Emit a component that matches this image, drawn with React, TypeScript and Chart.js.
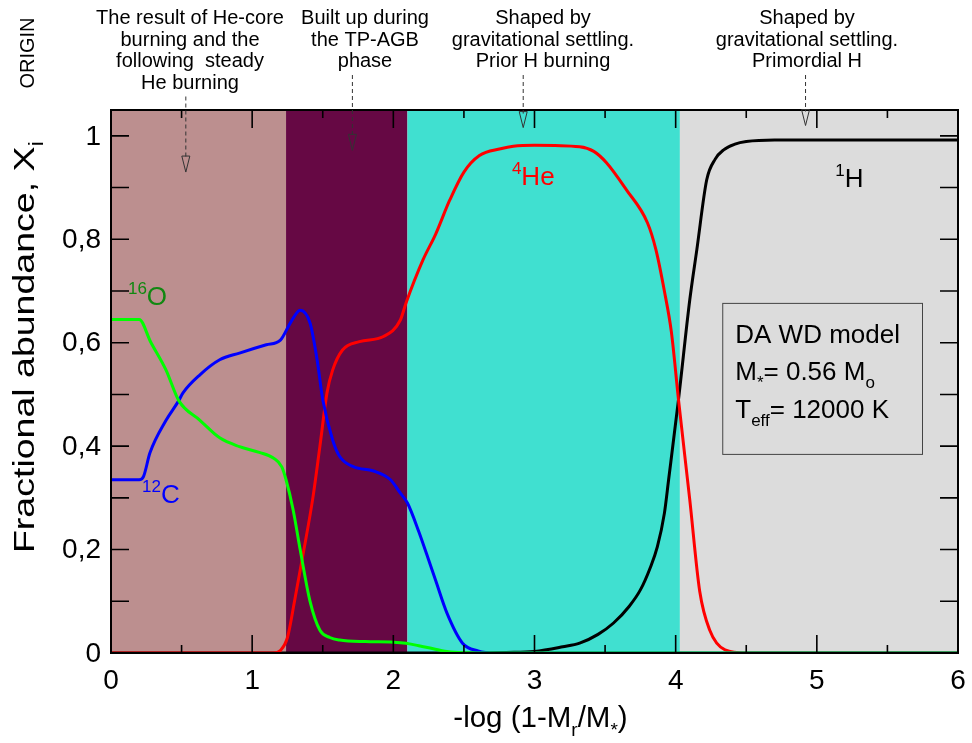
import React, { useEffect, useRef } from "react";
import { Chart, registerables } from "chart.js";

Chart.register(...registerables);

// Abundance profiles against -log(1 - Mr/M*)
const xO = [0, 0.2, 0.28, 0.39, 0.48, 0.63, 0.77, 0.91, 1.05, 1.15, 1.21, 1.24, 1.29, 1.34, 1.41, 1.48, 1.55, 1.62, 1.8, 2.0, 2.09, 2.18, 2.26, 2.38, 2.5, 2.65, 6];
const yO = [0.645, 0.645, 0.602, 0.547, 0.488, 0.45, 0.416, 0.399, 0.388, 0.377, 0.36, 0.335, 0.277, 0.2, 0.1, 0.044, 0.03, 0.025, 0.022, 0.021, 0.019, 0.014, 0.0095, 0.003, 0.0005, 0, 0];

const xC = [0, 0.2, 0.23, 0.276, 0.39, 0.48, 0.51, 0.63, 0.77, 0.91, 1.1, 1.2, 1.27, 1.34, 1.41, 1.46, 1.5, 1.57, 1.62, 1.72, 1.86, 1.98, 2.05, 2.1, 2.18, 2.26, 2.3, 2.38, 2.49, 2.6, 2.72, 6];
const yC = [0.335, 0.335, 0.341, 0.387, 0.45, 0.488, 0.503, 0.538, 0.567, 0.58, 0.596, 0.605, 0.638, 0.663, 0.638, 0.567, 0.49, 0.412, 0.38, 0.36, 0.352, 0.335, 0.309, 0.29, 0.235, 0.172, 0.14, 0.077, 0.019, 0.004, 0, 0];

const xHe = [0, 1.15, 1.2, 1.25, 1.3, 1.36, 1.43, 1.48, 1.53, 1.57, 1.64, 1.76, 1.93, 2.05, 2.09, 2.21, 2.3, 2.4, 2.5, 2.61, 2.76, 2.85, 3.0, 3.32, 3.42, 3.51, 3.65, 3.8, 3.86, 3.92, 3.97, 4.02, 4.1, 4.17, 4.24, 4.35, 4.5, 6];
const yHe = [0, 0, 0.005, 0.03, 0.1, 0.19, 0.3, 0.4, 0.503, 0.547, 0.586, 0.602, 0.612, 0.644, 0.677, 0.76, 0.81, 0.876, 0.93, 0.962, 0.975, 0.98, 0.982, 0.979, 0.97, 0.948, 0.896, 0.832, 0.78, 0.7, 0.62, 0.49, 0.296, 0.12, 0.045, 0.006, 0, 0];

const xH = [0, 2.6, 2.8, 3.0, 3.2, 3.32, 3.45, 3.56, 3.67, 3.75, 3.82, 3.87, 3.92, 3.95, 4.02, 4.1, 4.15, 4.22, 4.28, 4.34, 4.42, 4.5, 4.7, 6];
const yH = [0, 0, 0.001, 0.003, 0.012, 0.019, 0.036, 0.058, 0.09, 0.122, 0.165, 0.205, 0.27, 0.335, 0.49, 0.683, 0.78, 0.915, 0.955, 0.973, 0.984, 0.989, 0.992, 0.992];

// Shaded zones along the mass coordinate
const bandEdges = [0, 1.24, 2.1, 4.03, 6];
const bandColors = ["#BC8F8F", "#660844", "#40E0D0", "#DCDCDC"];

// Axis ticks
const xMajorTicks = [0, 1, 2, 3, 4, 5, 6];
const xMinorTicks = [0.5, 1.5, 2.5, 3.5, 4.5, 5.5];
const xTickLabels = ["0", "1", "2", "3", "4", "5", "6"];
const yTicks = [0, 0.1, 0.2, 0.3, 0.4, 0.5, 0.6, 0.7, 0.8, 0.9, 1.0];
const yLabelValues = [0, 0.2, 0.4, 0.6, 0.8, 1.0];
const yTickLabels = ["0", "0,2", "0,4", "0,6", "0,8", "1"];

// Notes above the frame, each pointing down at a zone
const noteX = [0.53, 1.71, 2.92, 4.92];
const noteTipY = [0.93, 0.972, 1.016, 1.02];
const noteLines = [
  ["The result of He-core", "burning and the", "following  steady", "He burning"],
  ["Built up during", "the TP-AGB", "phase"],
  ["Shaped by", "gravitational settling.", "Prior H burning"],
  ["Shaped by", "gravitational settling.", "Primordial H"],
];

const FONT = "'Liberation Sans', Arial, Helvetica, sans-serif";

type Run = { t: string; sub?: boolean; sup?: boolean };

function runFont(size: number, r: Run) {
  const s = r.sub || r.sup ? Math.round(size * 0.66) : size;
  return `${s}px ${FONT}`;
}

function drawRuns(
  ctx: CanvasRenderingContext2D,
  runs: Run[],
  x: number,
  y: number,
  size: number,
  align: "left" | "center" | "right" = "left"
) {
  ctx.save();
  ctx.textAlign = "left";
  ctx.textBaseline = "alphabetic";
  let total = 0;
  const widths = runs.map((r) => {
    ctx.font = runFont(size, r);
    const w = ctx.measureText(r.t).width;
    total += w;
    return w;
  });
  let cx = align === "left" ? x : align === "center" ? x - total / 2 : x - total;
  runs.forEach((r, i) => {
    ctx.font = runFont(size, r);
    const dy = r.sub ? size * 0.3 : r.sup ? -size * 0.42 : 0;
    ctx.fillText(r.t, cx, y + dy);
    cx += widths[i];
  });
  ctx.restore();
}

const decorPlugin = {
  id: "decor",
  beforeDatasetsDraw(chart: any) {
    const { ctx, chartArea: a, scales } = chart;
    const xs = scales.x;
    ctx.save();
    for (let i = 0; i < bandColors.length; i++) {
      const x0 = xs.getPixelForValue(bandEdges[i]);
      const x1 = xs.getPixelForValue(bandEdges[i + 1]);
      ctx.fillStyle = bandColors[i];
      ctx.fillRect(x0, a.top, x1 - x0, a.bottom - a.top);
    }
    ctx.restore();
  },
  afterDatasetsDraw(chart: any) {
    const { ctx, chartArea: a, scales } = chart;
    const xs = scales.x;
    const ys = scales.y;
    ctx.save();

    // ticks pointing inwards on all four sides
    ctx.strokeStyle = "#000";
    ctx.lineWidth = 1.6;
    ctx.beginPath();
    xMajorTicks.forEach((v) => {
      const px = xs.getPixelForValue(v);
      ctx.moveTo(px, a.bottom);
      ctx.lineTo(px, a.bottom - 18);
      ctx.moveTo(px, a.top);
      ctx.lineTo(px, a.top + 18);
    });
    xMinorTicks.forEach((v) => {
      const px = xs.getPixelForValue(v);
      ctx.moveTo(px, a.bottom);
      ctx.lineTo(px, a.bottom - 8);
      ctx.moveTo(px, a.top);
      ctx.lineTo(px, a.top + 8);
    });
    yTicks.forEach((v) => {
      const py = ys.getPixelForValue(v);
      ctx.moveTo(a.left, py);
      ctx.lineTo(a.left + 18, py);
      ctx.moveTo(a.right, py);
      ctx.lineTo(a.right - 18, py);
    });
    ctx.stroke();

    // frame
    ctx.lineWidth = 2;
    ctx.strokeRect(a.left, a.top, a.right - a.left, a.bottom - a.top);

    // tick labels
    ctx.fillStyle = "#000";
    ctx.font = `28px ${FONT}`;
    ctx.textAlign = "right";
    ctx.textBaseline = "middle";
    yLabelValues.forEach((v, i) => {
      ctx.fillText(yTickLabels[i], a.left - 10, ys.getPixelForValue(v) + 1);
    });
    ctx.textAlign = "center";
    ctx.textBaseline = "top";
    xMajorTicks.forEach((v, i) => {
      ctx.fillText(xTickLabels[i], xs.getPixelForValue(v), a.bottom + 14);
    });

    // axis titles
    drawRuns(
      ctx,
      [{ t: "-log (1-M" }, { t: "r", sub: true }, { t: "/M" }, { t: "*", sub: true }, { t: ")" }],
      (a.left + a.right) / 2 + 6,
      a.bottom + 74,
      29.5,
      "center"
    );
    ctx.save();
    ctx.translate(a.left - 77, 347);
    ctx.rotate(-Math.PI / 2);
    ctx.scale(1.25, 1);
    drawRuns(ctx, [{ t: "Fractional abundance, X" }, { t: "i", sub: true }], 0, 0, 30, "center");
    ctx.restore();

    // ORIGIN mark
    ctx.save();
    ctx.translate(34, 53);
    ctx.rotate(-Math.PI / 2);
    ctx.font = `20px ${FONT}`;
    ctx.textAlign = "center";
    ctx.textBaseline = "alphabetic";
    ctx.fillText("ORIGIN", 0, 0);
    ctx.restore();

    // notes with dashed pointers
    const textCenters = [190, 365, 543, 807];
    noteLines.forEach((lines, i) => {
      ctx.font = `20px ${FONT}`;
      ctx.textAlign = "center";
      ctx.textBaseline = "alphabetic";
      ctx.fillStyle = "#000";
      lines.forEach((ln, j) => ctx.fillText(ln, textCenters[i], 24 + j * 21.5));
      const px = xs.getPixelForValue(noteX[i]);
      const startY = 24 + (lines.length - 1) * 21.5 + 8;
      const tipY = ys.getPixelForValue(noteTipY[i]);
      ctx.strokeStyle = "#333";
      ctx.lineWidth = 1;
      ctx.setLineDash([4, 3]);
      ctx.beginPath();
      ctx.moveTo(px, startY);
      ctx.lineTo(px, tipY - 14);
      ctx.stroke();
      ctx.setLineDash([]);
      ctx.beginPath();
      ctx.moveTo(px - 4, tipY - 16);
      ctx.lineTo(px, tipY);
      ctx.lineTo(px + 4, tipY - 16);
      ctx.closePath();
      ctx.stroke();
    });

    // model box
    const bx0 = xs.getPixelForValue(4.33);
    const bx1 = xs.getPixelForValue(5.745);
    const by0 = ys.getPixelForValue(0.677);
    const by1 = ys.getPixelForValue(0.385);
    ctx.fillStyle = "#DCDCDC";
    ctx.fillRect(bx0, by0, bx1 - bx0, by1 - by0);
    ctx.strokeStyle = "#444";
    ctx.lineWidth = 1;
    ctx.strokeRect(bx0 + 0.5, by0 + 0.5, bx1 - bx0, by1 - by0);
    ctx.fillStyle = "#000";
    drawRuns(ctx, [{ t: "DA WD model" }], bx0 + 13, by0 + 40, 26);
    drawRuns(ctx, [{ t: "M" }, { t: "*", sub: true }, { t: "= 0.56 M" }, { t: "o", sub: true }], bx0 + 13, by0 + 77, 26);
    drawRuns(ctx, [{ t: "T" }, { t: "eff", sub: true }, { t: "= 12000 K" }], bx0 + 13, by0 + 115, 26);

    // species labels
    ctx.fillStyle = "#118811";
    drawRuns(ctx, [{ t: "16", sup: true }, { t: "O" }], xs.getPixelForValue(0.12), ys.getPixelForValue(0.673), 26);
    ctx.fillStyle = "#0000FF";
    drawRuns(ctx, [{ t: "12", sup: true }, { t: "C" }], xs.getPixelForValue(0.22), ys.getPixelForValue(0.29), 26);
    ctx.fillStyle = "#FF0000";
    drawRuns(ctx, [{ t: "4", sup: true }, { t: "He" }], xs.getPixelForValue(2.84), ys.getPixelForValue(0.905), 26);
    ctx.fillStyle = "#000";
    drawRuns(ctx, [{ t: "1", sup: true }, { t: "H" }], xs.getPixelForValue(5.13), ys.getPixelForValue(0.901), 26);

    ctx.restore();
  },
};

function pts(xs: number[], ys: number[]) {
  return xs.map((x, i) => ({ x, y: ys[i] }));
}

export default function App() {
  const ref = useRef<HTMLCanvasElement | null>(null);

  useEffect(() => {
    document.body.style.margin = "0";
    const canvas = ref.current;
    if (!canvas) return;
    const mk = (label: string, xs: number[], ys: number[], color: string) => ({
      label,
      data: pts(xs, ys),
      borderColor: color,
      borderWidth: 3,
      pointRadius: 0,
      fill: false,
      cubicInterpolationMode: "monotone" as const,
    });
    const chart = new Chart(canvas, {
      type: "line",
      data: {
        datasets: [
          mk("16O", xO, yO, "#00FF00"),
          mk("12C", xC, yC, "#0000FF"),
          mk("4He", xHe, yHe, "#FF0000"),
          mk("1H", xH, yH, "#000000"),
        ],
      },
      options: {
        animation: false,
        responsive: false,
        devicePixelRatio: 1,
        layout: { padding: { left: 111, right: 14, top: 110, bottom: 90 } },
        plugins: { legend: { display: false }, tooltip: { enabled: false } },
        scales: {
          x: { type: "linear", min: 0, max: 6, display: false },
          y: { type: "linear", min: 0, max: 1.05, display: false },
        },
      },
      plugins: [decorPlugin],
    });
    return () => chart.destroy();
  }, []);

  return <canvas ref={ref} width={972} height={743} style={{ display: "block" }} />;
}
